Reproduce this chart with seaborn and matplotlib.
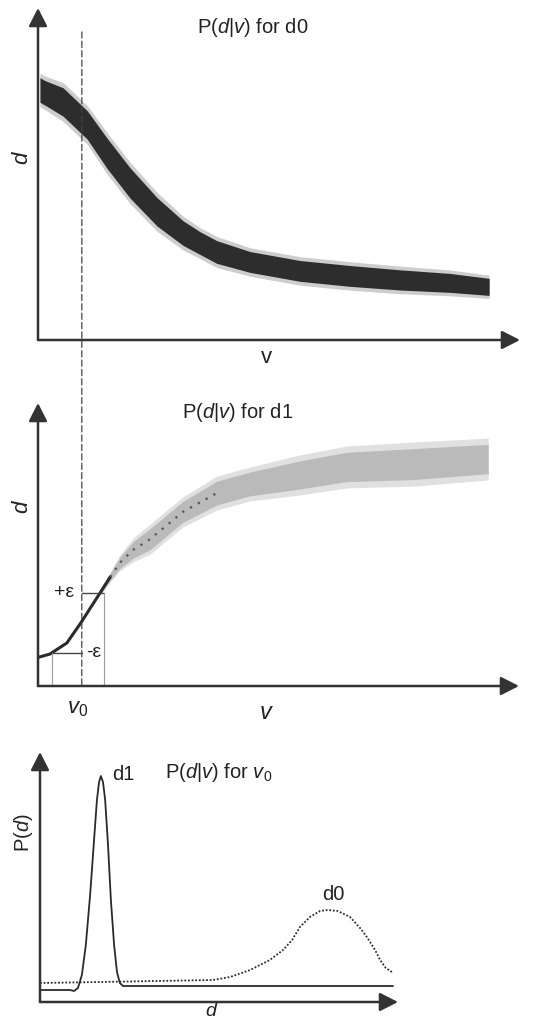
import matplotlib
matplotlib.use("Agg")
import matplotlib.pyplot as plt
import seaborn as sns
import pandas as pd
from matplotlib.patches import ConnectionPatch

# ---------------- data ----------------
# Panel 1: P(d|v) for d0 -- band centre and half-width
d0_v = [0.4, 1.5, 5.2, 10.2, 14.3, 19.1, 24.7, 30.1, 33.6, 37.1, 44.0, 54.4, 64.7, 75.1, 85.5, 93.6]
d0_d = [75.3, 74.4, 71.7, 64.8, 56.3, 47.3, 38.6, 32.2, 29.2, 26.5, 23.5, 20.8, 19.3, 18.1, 17.2, 16.0]
d0_hw = [3.9, 3.9, 4.5, 4.5, 4.8, 4.8, 4.5, 3.9, 3.6, 3.6, 3.3, 3.3, 3.3, 3.2, 3.0, 2.7]

# Panel 2: P(d|v) for d1 -- band centre and half-width
d1_v = [0.2, 2.5, 6.0, 8.9, 12.9, 15.0, 17.0, 19.8, 23.3, 30.1, 37.2, 44.1, 54.5, 64.2, 78.0, 93.6]
d1_d = [10.2, 11.3, 15.2, 22.3, 32.9, 38.5, 43.5, 48.1, 51.9, 61.5, 68.2, 71.4, 74.6, 77.4, 78.4, 80.2]
d1_hw = [0.5, 0.5, 0.7, 0.7, 0.9, 1.8, 2.8, 4.2, 5.3, 5.3, 6.0, 6.0, 7.1, 7.4, 7.8, 7.4]

v0 = 9.1
v_minus, d_minus = 2.9, 11.7
v_plus, d_plus = 13.7, 32.9

# Panel 3: P(d|v) for v0
p_d1_x = [0, 5.6, 8.4, 9.5, 10.6, 11.7, 12.8, 14.0, 15.1, 15.9, 16.5, 17.0, 17.6, 18.2, 19.0,
          19.8, 20.7, 21.5, 22.3, 23.2, 30.7, 58.7, 98.6]
p_d1_y = [4.8, 4.8, 4.8, 4.4, 5.6, 10.8, 22.8, 42.8, 64.8, 80.8, 88.0, 90.4, 88.0, 80.8, 62.8,
          40.8, 22.8, 12.0, 7.6, 6.4, 6.4, 6.4, 6.4]
p_d0_x = [0, 16.8, 48.3, 53.1, 58.7, 64.2, 67.9, 70.4, 72.6, 75.4, 78.2, 80.4, 83.2, 86.6,
          89.4, 91.3, 93.6, 95.0, 96.6, 98.3]
p_d0_y = [7.6, 8.0, 8.8, 10.0, 12.8, 16.8, 20.8, 24.8, 30.0, 34.0, 36.4, 36.8, 36.4, 34.0,
          29.6, 26.0, 20.8, 16.8, 13.6, 12.0]

# ---------------- style ----------------
sns.set_theme(style="white")
plt.rcParams["font.family"] = ["Liberation Sans", "DejaVu Sans"]
plt.rcParams["mathtext.fontset"] = "custom"
plt.rcParams["mathtext.rm"] = "Liberation Sans"
plt.rcParams["mathtext.it"] = "Liberation Sans:italic"

AX = "#333333"
TXT = "#222222"
FS = 14.5

fig = plt.figure(figsize=(5.45, 10.19), dpi=100)
W, H = 545, 1019


def make_axes(left, right, top, bottom):
    return fig.add_axes([left / W, 1 - bottom / H, (right - left) / W, (bottom - top) / H])


def arrows(ax):
    for sp in ax.spines.values():
        sp.set_visible(False)
    ax.set_xticks([])
    ax.set_yticks([])
    ax.set_xlim(0, 100)
    ax.set_ylim(0, 100)
    ax.patch.set_alpha(0)
    kw = dict(arrowstyle="-|>,head_length=0.55,head_width=0.28", lw=1.8, color=AX,
              mutation_scale=20, shrinkA=0, shrinkB=0)
    ax.annotate("", xy=(1, 0), xytext=(0, 0), xycoords="axes fraction", arrowprops=kw)
    ax.annotate("", xy=(0, 1), xytext=(0, 0), xycoords="axes fraction", arrowprops=kw)


ax1 = make_axes(38, 520, 8, 340)
ax2 = make_axes(38, 519, 403, 686)
ax3 = make_axes(40, 398, 752, 1002)
for a in (ax1, ax2, ax3):
    arrows(a)

# ---- panel 1 ----
df0 = pd.DataFrame({"v": d0_v, "d": d0_d, "hw": d0_hw})
ax1.fill_between(df0["v"], df0["d"] - df0["hw"] * 1.3, df0["d"] + df0["hw"] * 1.3,
                 color="#1c1c1c", lw=0, alpha=0.22)
ax1.fill_between(df0["v"], df0["d"] - df0["hw"] * 0.95, df0["d"] + df0["hw"] * 0.95,
                 color="#1c1c1c", lw=0, alpha=0.9)
ax1.text(0.446, 0.94, r"P($d$|$v$) for d0", transform=ax1.transAxes, ha="center", va="center",
         fontsize=FS, color=TXT)
ax1.text(-0.033, 0.551, r"$d$", transform=ax1.transAxes, ha="center", va="center",
         rotation=90, fontsize=16, color=TXT)
ax1.text(0.475, -0.054, "v", transform=ax1.transAxes, ha="center", va="center",
         fontsize=16, color=TXT)

# ---- panel 2 ----
df1 = pd.DataFrame({"v": d1_v, "d": d1_d, "hw": d1_hw})
band = df1[df1["v"] >= 12.9]
ax2.fill_between(band["v"], band["d"] - band["hw"], band["d"] + band["hw"],
                 color="#c8c8c8", lw=0, alpha=0.55)
ax2.fill_between(band["v"], band["d"] - band["hw"] * 0.7, band["d"] + band["hw"] * 0.7,
                 color="#b4b4b4", lw=0, alpha=0.85)
core = df1[df1["v"] <= 15.0]
sns.lineplot(data=core, x="v", y="d", ax=ax2, color="#2a2a2a", lw=2.2, estimator=None, sort=False)
mid = df1[(df1["v"] >= 15.0) & (df1["v"] <= 37.2)]
sns.lineplot(data=mid, x="v", y="d", ax=ax2, color="#555555", lw=1.6, estimator=None,
             sort=False, linestyle=(0, (1, 3)))
ax2.set_xlabel("")
ax2.set_ylabel("")

# epsilon box
ax2.plot([v_minus, v0], [d_minus, d_minus], color="#444444", lw=1.0)
ax2.plot([v0, v_plus], [d_plus, d_plus], color="#444444", lw=1.0)
ax2.plot([v_minus, v_minus], [0, d_minus], color="#9a9a9a", lw=0.8)
ax2.plot([v_plus, v_plus], [0, d_plus], color="#9a9a9a", lw=0.8)
ax2.text(5.4, d_plus, "+ε", ha="center", va="center", fontsize=14, color=TXT)
ax2.text(11.6, d_minus, "-ε", ha="center", va="center", fontsize=14, color=TXT)

ax2.text(0.416, 0.965, r"P($d$|$v$) for d1", transform=ax2.transAxes, ha="center", va="center",
         fontsize=FS, color=TXT)
ax2.text(-0.033, 0.633, r"$d$", transform=ax2.transAxes, ha="center", va="center",
         rotation=90, fontsize=16, color=TXT)
ax2.text(0.476, -0.095, r"$v$", transform=ax2.transAxes, ha="center", va="center",
         fontsize=17, color=TXT)
ax2.text(0.083, -0.078, r"$v_{\mathit{0}}$", transform=ax2.transAxes, ha="center", va="center",
         fontsize=16, color=TXT)

# dashed v0 line through both panels
con = ConnectionPatch(xyA=(v0, 92.8), coordsA="data", axesA=ax1,
                      xyB=(v0, 0), coordsB="data", axesB=ax2,
                      color="#444444", lw=0.9, linestyle=(0, (5, 2.5)))
fig.add_artist(con)

# ---- panel 3 ----
sns.lineplot(x=p_d1_x, y=p_d1_y, ax=ax3, color="#2a2a2a", lw=1.3, estimator=None, sort=False)
sns.lineplot(x=p_d0_x, y=p_d0_y, ax=ax3, color="#2a2a2a", lw=1.3, estimator=None, sort=False,
             linestyle=(0, (1, 1)))
ax3.set_xlabel("")
ax3.set_ylabel("")
ax3.text(0.349, 0.916, r"P($d$|$v$) for $v_{\mathit{0}}$", transform=ax3.transAxes,
         ha="left", va="center", fontsize=FS, color=TXT)
ax3.text(0.201, 0.908, "d1", transform=ax3.transAxes, ha="left", va="center",
         fontsize=FS, color=TXT)
ax3.text(0.818, 0.428, "d0", transform=ax3.transAxes, ha="center", va="center",
         fontsize=FS, color=TXT)
ax3.text(-0.047, 0.676, r"P($d$)", transform=ax3.transAxes, ha="center", va="center",
         rotation=90, fontsize=14.5, color=TXT)
ax3.text(0.480, -0.058, r"$d$", transform=ax3.transAxes, ha="center", va="baseline",
         fontsize=14, color=TXT)

fig.savefig("out.png", dpi=100, facecolor="white")
